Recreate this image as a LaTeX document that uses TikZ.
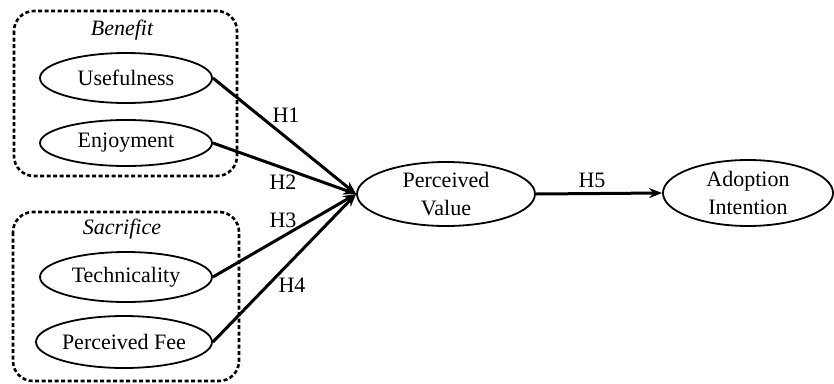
\documentclass[tikz,border=0pt]{standalone}
\usepackage{fontspec}
\setmainfont{Liberation Serif}
\usetikzlibrary{shapes.geometric,arrows.meta}
\begin{document}
\begin{tikzpicture}[x=1pt,y=-1pt,
  every node/.style={font=\fontsize{22}{28}\selectfont},
  oval/.style={draw,ellipse,line width=1.8pt,inner sep=0pt,align=center},
  group/.style={draw,line width=2.6pt,dash pattern=on 4pt off 2.5pt,rounded corners=20pt},
  link/.style={line width=3pt,-{Stealth[length=13pt,width=10pt]}},
  hlab/.style={inner sep=0pt}]
\useasboundingbox (0,0) rectangle (834,383);
\draw[group] (14,11) rectangle (237,176);
\draw[group] (13,212) rectangle (239,381);
\node[hlab] (ben) at (122,30) {\itshape Benefit};
\node[hlab] (sac) at (122,229) {\itshape Sacrifice};
\node[oval,minimum width=172pt,minimum height=50pt] (u) at (126,78) {Usefulness};
\node[oval,minimum width=172pt,minimum height=46pt] (e) at (126,143) {Enjoyment};
\node[oval,minimum width=172pt,minimum height=50pt] (t) at (126,277) {Technicality};
\node[oval,minimum width=176pt,minimum height=52pt] (f) at (124,342) {Perceived Fee};
\node[oval,minimum width=178pt,minimum height=64pt] (pv) at (446,194) {Perceived\\Value};
\node[oval,minimum width=170pt,minimum height=66pt] (ai) at (748,193) {Adoption\\Intention};
\draw[link] (u.east) -- (pv.west);
\draw[link] (e.east) -- (pv.west);
\draw[link] (t.east) -- (pv.west);
\draw[link] (f.east) -- (pv.west);
\draw[link] (pv.east) -- (ai.west);
\node[hlab] (h1) at (286,115) {H1};
\node[hlab] (h2) at (283,182) {H2};
\node[hlab] (h3) at (283,220) {H3};
\node[hlab] (h4) at (292,285) {H4};
\node[hlab] (h5) at (592,180) {H5};
\end{tikzpicture}
\end{document}
